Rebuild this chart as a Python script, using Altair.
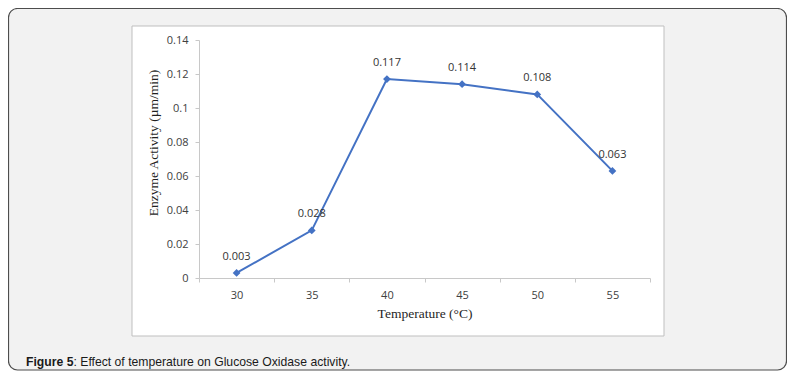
import altair as alt
import pandas as pd

temps = [30, 35, 40, 45, 50, 55]
activity = [0.003, 0.028, 0.117, 0.114, 0.108, 0.063]
y_ticks = [0, 0.02, 0.04, 0.06, 0.08, 0.10, 0.12, 0.14]
x_title = "Temperature (°C)"
y_title = "Enzyme Activity (µm/min)"
caption_bold = "Figure 5"
caption_rest = ": Effect of temperature on Glucose Oxidase activity."

df = pd.DataFrame({"temp": temps, "activity": activity})
one = alt.Data(values=[{"k": 1}])

BLUE = "#4472C4"
W, H = 451, 238

x_enc = alt.X(
    "temp:O",
    scale=alt.Scale(type="band", paddingInner=0, paddingOuter=0),
    axis=alt.Axis(
        title=x_title, labelAngle=0, tickBand="extent", tickSize=4,
        domainColor="#c8c8c8", tickColor="#c8c8c8",
        labelFont="Open Sans", labelFontSize=11, labelColor="#404040", labelPadding=7,
        titleFont="Liberation Serif", titleFontSize=13.5, titleFontWeight="normal",
        titleColor="#1f1f1f", titleX=W / 2, titleY=35, titleAlign="center",
        titleBaseline="middle", zindex=1,
    ),
)
y_enc = alt.Y(
    "activity:Q",
    scale=alt.Scale(domain=[0, 0.14], nice=False),
    axis=alt.Axis(
        title=y_title, values=y_ticks, format=".2~f", tickSize=4, grid=False,
        domainColor="#c8c8c8", tickColor="#c8c8c8",
        labelFont="Open Sans", labelFontSize=11, labelColor="#404040", labelPadding=7,
        titleFont="Liberation Serif", titleFontSize=13.5, titleFontWeight="normal",
        titleColor="#1f1f1f", titleAngle=270, titleX=-46, titleY=102.5,
        titleAlign="center", titleBaseline="middle", zindex=1,
    ),
)

outer = alt.Chart(one).mark_rect(
    fill="#f2f2f2", stroke="#4d4d4d", strokeWidth=1.2, cornerRadius=9
).encode(x=alt.value(-190.5), x2=alt.value(587.5), y=alt.value(-31.5), y2=alt.value(330))

inner = alt.Chart(one).mark_rect(
    fill="white", stroke="#bfbfbf", strokeWidth=1
).encode(x=alt.value(-67), x2=alt.value(465), y=alt.value(-14), y2=alt.value(296))

cap1 = alt.Chart(one).mark_text(
    text=caption_bold, font="Liberation Sans", fontSize=12.2, fontWeight="bold",
    color="#1a1a1a", align="left", baseline="middle"
).encode(x=alt.value(-173), y=alt.value(322))

cap2 = alt.Chart(one).mark_text(
    text=caption_rest, font="Liberation Sans", fontSize=12.2,
    color="#1a1a1a", align="left", baseline="middle"
).encode(x=alt.value(-125.5), y=alt.value(322))

base = alt.Chart(df).encode(x=x_enc, y=y_enc)
line = base.mark_line(color=BLUE, strokeWidth=2)
pts = base.mark_point(shape="diamond", filled=True, size=60, color=BLUE, opacity=1)
labels = base.mark_text(
    dy=-16, font="Open Sans", fontSize=11, color="#333333"
).encode(text=alt.Text("activity:Q", format=".3f"))

chart = alt.layer(outer, inner, cap1, cap2, line, pts, labels).properties(
    width=W, height=H,
    autosize=alt.AutoSizeParams(type="none"),
    padding={"left": 191, "top": 32, "right": 137, "bottom": 93},
).configure_view(stroke=None)

chart.save("out.html", embed_options={"renderer": "svg", "actions": False})
